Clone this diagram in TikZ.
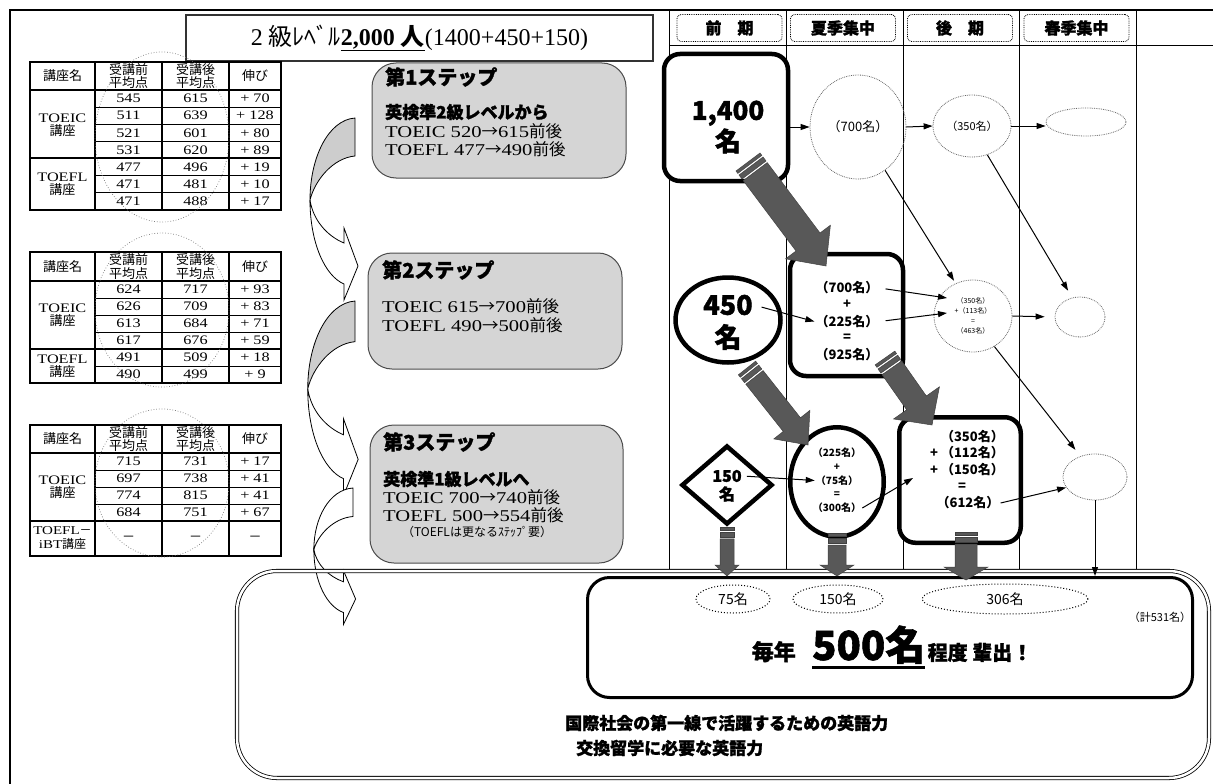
\documentclass[tikz,border=0pt]{standalone}
\usepackage{fontspec}
\setmainfont{Liberation Serif}[FakeStretch=1.25]
\newfontfamily\titlefont{Liberation Serif}
\newfontfamily\jp{Noto Sans CJK JP}
\newfontfamily\jpheavy{Noto Sans CJK JP}[BoldFeatures={FakeBold=1.4}]
\usetikzlibrary{shapes.geometric,arrows.meta,calc,positioning}

\definecolor{stepgray}{RGB}{213,213,213}
\definecolor{backgray}{RGB}{205,205,205}
\definecolor{arrowgray}{RGB}{88,88,88}

\tikzstyle{thinarrow} = [line width=1pt, -{Triangle[length=9pt,width=6pt]}]
\tikzstyle{dotnode} = [ellipse, draw=black!60, densely dotted, line width=0.8pt, inner sep=0pt]
\tikzstyle{heavybox} = [rectangle, rounded corners=16pt, draw, fill=white, line width=4.5pt, inner sep=0pt]
\tikzstyle{heavyring} = [ellipse, draw, fill=white, line width=4.5pt, inner sep=0pt]
\tikzstyle{stepbox} = [rectangle, rounded corners=24pt, draw=black!70, line width=1pt, fill=stepgray]
\tikzstyle{headbox} = [rectangle, rounded corners=4pt, draw, densely dotted, line width=0.8pt, minimum width=105pt, minimum height=27pt, font=\jpheavy\bfseries\fontsize{16}{18}\selectfont]
\tikzstyle{tabnum} = [inner sep=0pt, font=\fontsize{13}{14}\selectfont]
\tikzstyle{tabjp} = [inner sep=0pt, align=center, font=\jp\fontsize{13}{13.5}\selectfont]
\tikzstyle{tabring} = [draw=black!55, dotted, line width=0.7pt]
\tikzstyle{steptitle} = [anchor=west, inner sep=0pt, font=\jpheavy\bfseries\fontsize{20}{22}\selectfont]
\tikzstyle{stepsub} = [anchor=west, inner sep=0pt, font=\jpheavy\bfseries\fontsize{17}{19}\selectfont]
\tikzstyle{steptext} = [anchor=west, inner sep=0pt, font=\fontsize{16.5}{18}\selectfont]
\tikzstyle{boxtext} = [inner sep=1pt, font=\jp\bfseries\fontsize{13}{15}\selectfont]
\tikzstyle{darkarrow} = [fill=arrowgray, draw=black!75, line width=0.5pt]
\tikzstyle{dotoval} = [ellipse, draw, dotted, line width=1pt, inner sep=0pt, font=\jp\fontsize{14}{16}\selectfont]

% striped block arrow: tail, tip, half shaft, half head, head length
\newcommand{\stripearrow}[5]{%
  \coordinate (sa1) at ($(#1)!3pt!(#2)$);
  \coordinate (sa2) at ($(#1)!5pt!(#2)$);
  \coordinate (sa3) at ($(#1)!10pt!(#2)$);
  \coordinate (sa4) at ($(#1)!12pt!(#2)$);
  \coordinate (hb) at ($(#2)!#5!(#1)$);
  \filldraw[darkarrow] ($(#1)!#3!90:(#2)$) -- ($(sa1)!#3!90:(#2)$) -- ($(sa1)!#3!-90:(#2)$) -- ($(#1)!#3!-90:(#2)$) -- cycle;
  \filldraw[darkarrow] ($(sa2)!#3!90:(#2)$) -- ($(sa3)!#3!90:(#2)$) -- ($(sa3)!#3!-90:(#2)$) -- ($(sa2)!#3!-90:(#2)$) -- cycle;
  \filldraw[darkarrow] ($(sa4)!#3!90:(#2)$) -- ($(hb)!#3!-90:(#1)$) -- ($(hb)!#4!-90:(#1)$) -- (#2)
    -- ($(hb)!#4!90:(#1)$) -- ($(hb)!#3!90:(#1)$) -- ($(sa4)!#3!-90:(#2)$) -- cycle;
}

\begin{document}
\begin{tikzpicture}[x=1pt,y=-1pt]
\useasboundingbox (0,0) rectangle (1213,784);

% frame and term columns
\draw[line width=2pt] (10,784) -- (10,10) -- (1213,10);
\foreach \x in {669,786,903,1019,1136}
  \draw[line width=0.8pt] (\x,10) -- (\x,570);
\draw[line width=0.8pt] (669,45) -- (1213,45);

\node[headbox] (hA) at (729.5,28) {前　期};
\node[headbox] (hB) at (843,28) {夏季集中};
\node[headbox] (hC) at (960,28) {後　期};
\node[headbox] (hD) at (1076.5,28) {春季集中};

\node[draw=black!80, line width=1.5pt, minimum width=467pt, minimum height=46pt, font=\titlefont\fontsize{24}{26}\selectfont] (title) at (419.5,38) {2 {\jp 級ﾚﾍﾞﾙ}\textbf{\underline{2,000 {\jp 人}}}(1400+450+150)};

% table 1
\draw[line width=1.6pt] (30,62) rectangle (281,210);
\draw[line width=1.6pt] (30,90) -- (281,90) (30,158) -- (281,158);
\foreach \x in {95,162,229} \draw[line width=1.2pt] (\x,62) -- (\x,210);
\foreach \y in {107.1,124.3,141.4,175.1,192.3} \draw[line width=0.7pt] (95,\y) -- (281,\y);
\node[tabjp] (t1h1) at (62.5,76) {講座名};
\node[tabjp] (t1h2) at (128.5,76) {受講前\\平均点};
\node[tabjp] (t1h3) at (195.5,76) {受講後\\平均点};
\node[tabjp] (t1h4) at (255,76) {伸び};
\node[tabjp] (t1g1) at (62.5,125) {{\rmfamily TOEIC}\\講座};
\node[tabjp] (t1g2) at (62.5,184) {{\rmfamily TOEFL}\\講座};
\foreach \vpre/\vpost/\vgain [count=\i] in {545/615/70, 511/639/128, 521/601/80, 531/620/89, 477/496/19, 471/481/10, 471/488/17}{
  \node[tabnum] (t1a\i) at (128.5,{90+17.14*(\i-0.5)}) {\vpre};
  \node[tabnum] (t1b\i) at (195.5,{90+17.14*(\i-0.5)}) {\vpost};
  \node[tabnum] (t1c\i) at (255,{90+17.14*(\i-0.5)}) {+\ \vgain};
}
\draw[tabring] (162,137) ellipse [x radius=67, y radius=85];

% table 2
\draw[line width=1.6pt] (30,252) rectangle (281,383);
\draw[line width=1.6pt] (30,281) -- (281,281) (30,349) -- (281,349);
\foreach \x in {95,162,229} \draw[line width=1.2pt] (\x,252) -- (\x,383);
\foreach \y in {298,315,332,366} \draw[line width=0.7pt] (95,\y) -- (281,\y);
\node[tabjp] (t2h1) at (62.5,266.5) {講座名};
\node[tabjp] (t2h2) at (128.5,266.5) {受講前\\平均点};
\node[tabjp] (t2h3) at (195.5,266.5) {受講後\\平均点};
\node[tabjp] (t2h4) at (255,266.5) {伸び};
\node[tabjp] (t2g1) at (62.5,315) {{\rmfamily TOEIC}\\講座};
\node[tabjp] (t2g2) at (62.5,366) {{\rmfamily TOEFL}\\講座};
\foreach \vpre/\vpost/\vgain [count=\i] in {624/717/93, 626/709/83, 613/684/71, 617/676/59, 491/509/18, 490/499/9}{
  \node[tabnum] (t2a\i) at (128.5,{281+17*(\i-0.5)}) {\vpre};
  \node[tabnum] (t2b\i) at (195.5,{281+17*(\i-0.5)}) {\vpost};
  \node[tabnum] (t2c\i) at (255,{281+17*(\i-0.5)}) {+\ \vgain};
}
\draw[tabring] (162,310) ellipse [x radius=67, y radius=77];

% table 3
\draw[line width=1.6pt] (30,425) rectangle (281,556);
\draw[line width=1.6pt] (30,453) -- (281,453) (30,521) -- (281,521);
\foreach \x in {95,162,229} \draw[line width=1.2pt] (\x,425) -- (\x,556);
\foreach \y in {470,487,504} \draw[line width=0.7pt] (95,\y) -- (281,\y);
\node[tabjp] (t3h1) at (62.5,439) {講座名};
\node[tabjp] (t3h2) at (128.5,439) {受講前\\平均点};
\node[tabjp] (t3h3) at (195.5,439) {受講後\\平均点};
\node[tabjp] (t3h4) at (255,439) {伸び};
\node[tabjp] (t3g1) at (62.5,487) {{\rmfamily TOEIC}\\講座};
\node[tabjp, font=\jp\fontsize{12}{14}\selectfont] (t3g2) at (62.5,538.5) {{\rmfamily TOEFL}－\\{\rmfamily iBT}講座};
\foreach \vpre/\vpost/\vgain [count=\i] in {715/731/17, 697/738/41, 774/815/41, 684/751/67}{
  \node[tabnum] (t3a\i) at (128.5,{453+17*(\i-0.5)}) {\vpre};
  \node[tabnum] (t3b\i) at (195.5,{453+17*(\i-0.5)}) {\vpost};
  \node[tabnum] (t3c\i) at (255,{453+17*(\i-0.5)}) {+\ \vgain};
}
\node[tabjp] (t3x1) at (128.5,538.5) {－};
\node[tabjp] (t3x2) at (195.5,538.5) {－};
\node[tabjp] (t3x3) at (255,538.5) {－};
\draw[tabring] (162,483) ellipse [x radius=67, y radius=74];

% curved arrows between tables and steps
\foreach \ox/\oy/\sx/\sy/\bandcol in {355/118/1/1/backgray, 355/301/1.05/1.07/backgray, 353/488/0.87/0.75/white}{
  \begin{scope}[shift={(\ox,\oy)}, xscale=\sx, yscale=\sy]
    \filldraw[fill=\bandcol, line width=0.8pt] (0,0) .. controls (-27,2) and (-45,40) .. (-45,82)
      .. controls (-40,62) and (-22,40) .. (0,38) -- cycle;
    \filldraw[fill=white, line width=0.8pt] (-45,82) .. controls (-45,125) and (-30,158) .. (-11,166)
      -- (-11,182) -- (3,148) -- (-11,110) -- (-11,125) .. controls (-28,118) and (-42,102) .. (-45,82) -- cycle;
  \end{scope}
}

% steps
\node[stepbox, minimum width=254pt, minimum height=115pt] (step1) at (499,120.5) {};
\node[steptitle] (s1t) at (385,77) {第1ステップ};
\node[stepsub] (s1a) at (385,112) {英検準2級レベルから};
\node[steptext] (s1b) at (385,131) {TOEIC 520{\jp →}615{\jp 前後}};
\node[steptext] (s1c) at (385,149) {TOEFL 477{\jp →}490{\jp 前後}};

\node[stepbox, minimum width=254pt, minimum height=116pt] (step2) at (495,311) {};
\node[steptitle] (s2t) at (382,270) {第2ステップ};
\node[steptext] (s2b) at (382,306) {TOEIC 615{\jp →}700{\jp 前後}};
\node[steptext] (s2c) at (382,325) {TOEFL 490{\jp →}500{\jp 前後}};

\node[stepbox, minimum width=253pt, minimum height=138pt] (step3) at (496.5,494) {};
\node[steptitle] (s3t) at (383,442) {第3ステップ};
\node[stepsub] (s3a) at (383,479) {英検準1級レベルへ};
\node[steptext] (s3b) at (383,497) {TOEIC 700{\jp →}740{\jp 前後}};
\node[steptext] (s3c) at (383,515) {TOEFL 500{\jp →}554{\jp 前後}};
\node[inner sep=0pt, font=\jp\fontsize{12}{14}\selectfont] (s3d) at (477,532) {（TOEFLは更なるｽﾃｯﾌﾟ要）};

% student flow
\node[heavybox, minimum width=124pt, minimum height=127pt] (n1400) at (726,117.5) {};
\node[align=center, font=\jpheavy\bfseries\fontsize{26}{31}\selectfont] (t1400) at (728,127) {1,400\\名};
\node[dotnode, minimum width=96pt, minimum height=104pt, font=\jp\fontsize{13}{15}\selectfont] (c700) at (858,127) {（700名）};
\node[dotnode, minimum width=78pt, minimum height=62pt, font=\jp\fontsize{11}{13}\selectfont] (c350) at (972,126) {（350名）};
\node[dotnode, minimum width=80pt, minimum height=28pt] (e1) at (1086,122) {};

\node[heavybox, minimum width=113pt, minimum height=122pt] (b925) at (846.5,315) {};
\foreach \txt [count=\i] in {（700名）,+,（225名）,=,（925名）}
  \node[boxtext] (b925l\i) at (847,{288+16.75*(\i-1)}) {\txt};

\node[heavyring, minimum width=105pt, minimum height=85pt] (n450) at (728,320) {};
\node[inner sep=1pt, font=\jpheavy\bfseries\fontsize{27}{30}\selectfont] (t450) at (728,305) {450};
\node[inner sep=1pt, font=\jpheavy\bfseries\fontsize{27}{30}\selectfont] (t450b) at (728,337) {名};

\node[dotnode, minimum width=78pt, minimum height=72pt, align=center, font=\jp\fontsize{7}{10}\selectfont] (ctiny) at (973,316) {（350名）\\+（113名）\\=\\（463名）};
\node[dotnode, minimum width=50pt, minimum height=40pt] (csmall) at (1080,317) {};

\node[diamond, draw, fill=white, line width=4.5pt, minimum width=91pt, minimum height=79pt, inner sep=0pt] (d150) at (727,485) {};
\node[inner sep=1pt, font=\jpheavy\bfseries\fontsize{16}{18}\selectfont] (t150) at (727,476) {150};
\node[inner sep=1pt, font=\jpheavy\bfseries\fontsize{16}{18}\selectfont] (t150b) at (727,494) {名};

\node[heavyring, minimum width=93.5pt, minimum height=109.5pt] (e300) at (837,482) {};
\foreach \txt [count=\i] in {（225名）,+,（75名）,=,（300名）}
  \node[boxtext, font=\jp\bfseries\fontsize{10}{12}\selectfont] (e300l\i) at (837,{453+13.75*(\i-1)}) {\txt};

\node[heavybox, minimum width=121.5pt, minimum height=125.5pt] (b612) at (960,480) {};
\node[boxtext, anchor=east] (b612l1) at (1005,437) {（350名）};
\node[boxtext, anchor=east] (b612l2) at (1005,453) {+ （112名）};
\node[boxtext, anchor=east] (b612l3) at (1005,470) {+ （150名）};
\node[boxtext] (b612l4) at (962,487) {=};
\node[boxtext] (b612l5) at (968,503) {（612名）};

\node[dotnode, minimum width=64pt, minimum height=46pt] (e2) at (1095,477) {};

% goal area
\node[draw, double, double distance=2.5pt, line width=0.8pt, rounded corners=40pt, minimum width=972pt, minimum height=207pt] (obox) at (723,674.5) {};
\node[draw, line width=3pt, rounded corners=22pt, minimum width=605pt, minimum height=120pt] (ibox) at (890,637.5) {};
\node[dotoval, minimum width=74pt, minimum height=28pt] (o75) at (733,599) {75名};
\node[dotoval, minimum width=90pt, minimum height=28pt] (o150) at (838,599) {150名};
\node[dotoval, minimum width=166pt, minimum height=30pt] (o306) at (1005,599) {306名};
\node[font=\jp\fontsize{11}{13}\selectfont] (total) at (1160,617) {（計531名）};

\node[anchor=base west, inner sep=0pt, font=\jpheavy\bfseries\fontsize{40}{44}\selectfont] (m2) at (812,660) {500名};
\node[base left=16pt of m2, inner sep=0pt, font=\jpheavy\bfseries\fontsize{22}{24}\selectfont] (m1) {毎年};
\node[base right=2pt of m2, inner sep=0pt, font=\jpheavy\bfseries\fontsize{20}{24}\selectfont] (m3) {程度 輩出！};
\draw[line width=3pt] ($(m2.base west)+(0,7)$) -- ($(m2.base east)+(0,7)$);

\node[anchor=west, inner sep=0pt, font=\jpheavy\bfseries\fontsize{17}{20}\selectfont] (goal1) at (565,723) {国際社会の第一線で活躍するための英語力};
\node[anchor=west, inner sep=0pt, font=\jpheavy\bfseries\fontsize{17}{20}\selectfont] (goal2) at (576,748) {交換留学に必要な英語力};

% block arrows
\coordinate (a1s) at ($(n1400)+(22,44.5)$);
\coordinate (a1e) at ($(b925)+(-20.5,-49)$);
\stripearrow{a1s}{a1e}{15pt}{28pt}{30pt}
\coordinate (a2s) at ($(n450)+(19,48)$);
\coordinate (a2e) at ($(e300)+(-29,-37)$);
\stripearrow{a2s}{a2e}{11pt}{23pt}{26pt}
\coordinate (a3s) at ($(b925)+(38.5,43)$);
\coordinate (a3e) at ($(b612)+(-28,-55)$);
\stripearrow{a3s}{a3e}{12pt}{28pt}{27pt}
\coordinate (d1e) at (d150.south |- ibox.north);
\stripearrow{d150.south}{d1e}{7pt}{12pt}{11pt}
\coordinate (d2s) at ($(e300.south)+(0,-6)$);
\coordinate (d2e) at (e300.south |- ibox.north);
\stripearrow{d2s}{d2e}{9pt}{17pt}{11pt}
\coordinate (d3s) at ($(b612.south)+(6,-13)$);
\coordinate (d3e) at ($(b612.south |- ibox.north)+(6,4)$);
\stripearrow{d3s}{d3e}{11pt}{22pt}{13pt}

% thin arrows
\coordinate (in1) at ($(ctiny)+(-26,-18)$);
\coordinate (in2) at ($(ctiny)+(-26,-3)$);
\coordinate (in3) at ($(b612.west)+(16,-2)$);
\draw[thinarrow] (c700.west -| n1400.east) -- (c700.west);
\draw[thinarrow] (c700.east) -- (c350.west);
\draw[thinarrow] (c350.east) -- (c350.east -| e1.west);
\draw[thinarrow, shorten >=3pt] (c700.-58) -- (ctiny.118);
\draw[thinarrow, shorten >=8pt] (c350.-62) -- (csmall.112);
\draw[thinarrow, shorten <=8pt] (t450.east) -- (b925l3.west);
\draw[thinarrow, shorten <=6pt] (b925l1.east) -- (in1);
\draw[thinarrow, shorten <=6pt] (b925l3.east) -- (in2);
\draw[thinarrow, shorten >=10pt] (ctiny.east) -- (csmall.west);
\draw[thinarrow, shorten >=8pt] (ctiny.-55) -- (e2.125);
\draw[thinarrow, shorten <=4pt] (t150.east) -- (e300l3.west);
\draw[thinarrow] (e300l5.east) -- (in3);
\draw[thinarrow] (b612l5.east) -- (e2.200);
\draw[thinarrow] (e2.south) -- (e2.south |- ibox.north);

\end{tikzpicture}
\end{document}
